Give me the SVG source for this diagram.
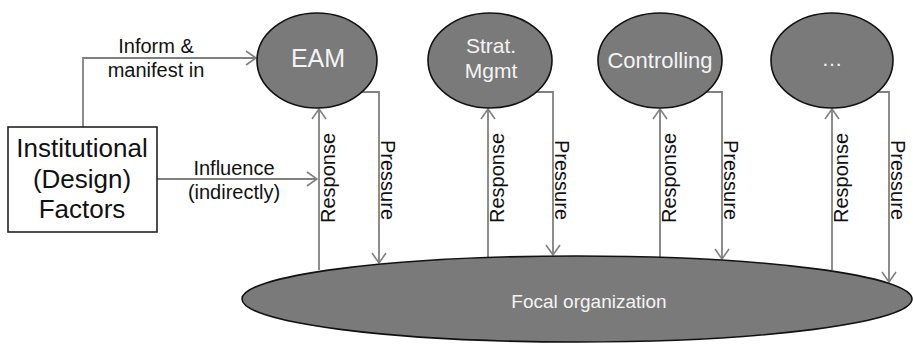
<svg xmlns="http://www.w3.org/2000/svg" width="913" height="345" viewBox="0 0 913 345">
<defs>
<marker id="arr" viewBox="0 0 12 16" refX="11" refY="8" markerWidth="12" markerHeight="16" markerUnits="userSpaceOnUse" orient="auto">
<path d="M1,1 L11,8 L1,15" fill="none" stroke="#808080" stroke-width="1.6"/>
</marker>
<style>
.node{fill:#7a7a7a;stroke:#111;stroke-width:1.6}
.nt{font-family:"Liberation Sans",Arial,sans-serif;fill:#f4f4f4;text-anchor:middle}
.lbl{font-family:"Liberation Sans",Arial,sans-serif;fill:#111;font-size:20px;text-anchor:middle}
.con{fill:none;stroke:#808080;stroke-width:1.8}
.box{font-family:"Liberation Sans",Arial,sans-serif;font-size:26px;fill:#111;text-anchor:middle}
</style>
</defs>
<rect width="913" height="345" fill="#fff"/>
<g id="connectors">
<path class="con" d="M83,127 V58 H256" marker-end="url(#arr)"/>
<path class="con" d="M157,179 H317" marker-end="url(#arr)"/>
<path class="con" d="M319,270 V109" marker-end="url(#arr)"/>
<path class="con" d="M362,92 H379 V263" marker-end="url(#arr)"/>
<path class="con" d="M488,257 V109" marker-end="url(#arr)"/>
<path class="con" d="M535,92 H553 V255" marker-end="url(#arr)"/>
<path class="con" d="M660,257 V109" marker-end="url(#arr)"/>
<path class="con" d="M705,92 H722 V259" marker-end="url(#arr)"/>
<path class="con" d="M832,270 V109" marker-end="url(#arr)"/>
<path class="con" d="M876,92 H889 V282" marker-end="url(#arr)"/>
<text class="lbl" x="156" y="53">Inform &amp;</text>
<text class="lbl" x="156" y="77">manifest in</text>
<text class="lbl" x="234" y="175">Influence</text>
<text class="lbl" x="234" y="199">(indirectly)</text>
<text class="lbl" transform="translate(335,178) rotate(-90)">Response</text>
<text class="lbl" transform="translate(381,180) rotate(90)">Pressure</text>
<text class="lbl" transform="translate(504,178) rotate(-90)">Response</text>
<text class="lbl" transform="translate(555,180) rotate(90)">Pressure</text>
<text class="lbl" transform="translate(676,178) rotate(-90)">Response</text>
<text class="lbl" transform="translate(724,180) rotate(90)">Pressure</text>
<text class="lbl" transform="translate(848,178) rotate(-90)">Response</text>
<text class="lbl" transform="translate(891,180) rotate(90)">Pressure</text>
</g>
<g id="institutional">
<rect x="8" y="127" width="149" height="105" fill="#fff" stroke="#222" stroke-width="1.6"/>
<text class="box" x="82" y="157">Institutional</text>
<text class="box" x="82" y="188">(Design)</text>
<text class="box" x="82" y="218">Factors</text>
</g>
<g id="eam">
<ellipse class="node" cx="317" cy="60.5" rx="60" ry="47.5"/>
<text class="nt" x="318" y="67" font-size="25">EAM</text>
</g>
<g id="strat">
<ellipse class="node" cx="490" cy="60.5" rx="62" ry="47.5"/>
<text class="nt" x="491" y="53" font-size="21">Strat.</text>
<text class="nt" x="491" y="78" font-size="21">Mgmt</text>
</g>
<g id="controlling">
<ellipse class="node" cx="660" cy="60.5" rx="62" ry="47.5"/>
<text class="nt" x="660" y="68" font-size="22">Controlling</text>
</g>
<g id="more">
<ellipse class="node" cx="832" cy="60.5" rx="61" ry="47.5"/>
<text class="nt" x="832" y="66" font-size="21">…</text>
</g>
<g id="focal">
<ellipse class="node" cx="577" cy="299" rx="335" ry="43"/>
<text class="nt" x="589" y="308" font-size="19">Focal organization</text>
</g>
</svg>
